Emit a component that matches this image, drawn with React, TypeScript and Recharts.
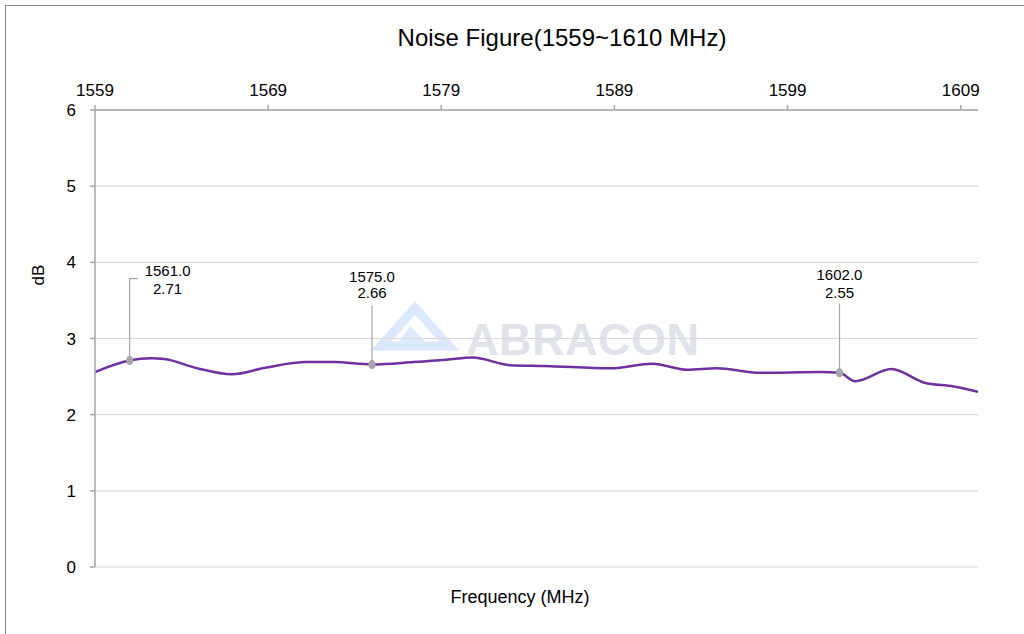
import { LineChart, Line, XAxis, YAxis, CartesianGrid } from "recharts";

// frequency (MHz) and noise figure (dB)
const freqs = [
  1559, 1561, 1562.2, 1563, 1564.9, 1566.9, 1568.9, 1571.2, 1572.8, 1575,
  1577.4, 1579.3, 1580.8, 1583, 1585, 1588.8, 1591.2, 1593.2, 1594.9, 1597.4,
  1600.9, 1602, 1602.9, 1605, 1606.9, 1608.6, 1610,
];
const noiseFigure = [
  2.56, 2.71, 2.74, 2.73, 2.61, 2.53, 2.62, 2.69, 2.69, 2.66,
  2.69, 2.72, 2.75, 2.65, 2.64, 2.61, 2.67, 2.59, 2.61, 2.55,
  2.56, 2.55, 2.44, 2.6, 2.42, 2.37, 2.3,
];
const xTicks = [1559, 1569, 1579, 1589, 1599, 1609];
const yTicks = [0, 1, 2, 3, 4, 5, 6];
const markerFreqs = [1561, 1575, 1602];

const data = freqs.map((f, i) => ({ freq: f, nf: noiseFigure[i] }));

// where each marker's callout sits relative to its dot
const calloutStyle: Record<number, { dx: number; top: number; l1: number; l2: number; elbow: number }> = {
  1561: { dx: 38, top: -82, l1: -90, l2: -72, elbow: 8 },
  1575: { dx: 0, top: -59, l1: -88, l2: -72, elbow: 0 },
  1602: { dx: 0, top: -69, l1: -98, l2: -80, elbow: 0 },
};

const FONT = '"Liberation Sans", Arial, sans-serif';

const MarkerDot = (props: any) => {
  const { cx, cy, payload, index } = props;
  if (!markerFreqs.includes(payload.freq)) return <g key={`d${index}`} />;
  const s = calloutStyle[payload.freq];
  return (
    <g key={`d${index}`}>
      <polyline
        points={`${cx},${cy} ${cx},${cy + s.top} ${cx + s.elbow},${cy + s.top}`}
        fill="none"
        stroke="#a6a6a6"
        strokeWidth={1.2}
      />
      <ellipse cx={cx} cy={cy} rx={3.5} ry={4.5} fill="#a6a6a6" />
      <text x={cx + s.dx} y={cy + s.l1} textAnchor="middle" dominantBaseline="central" fontSize={15} fill="#000" fontFamily={FONT}>
        {payload.freq.toFixed(1)}
      </text>
      <text x={cx + s.dx} y={cy + s.l2} textAnchor="middle" dominantBaseline="central" fontSize={15} fill="#000" fontFamily={FONT}>
        {payload.nf.toFixed(2)}
      </text>
    </g>
  );
};

export default function App() {
  return (
    <div style={{ position: "absolute", left: 0, top: 0, width: 1024, height: 634, background: "#fff", fontFamily: FONT }}>
      <div
        style={{
          position: "absolute", left: 5, top: 5, right: 0, bottom: 0,
          borderTop: "1.5px solid #8c8c8c", borderLeft: "1.5px solid #8c8c8c",
        }}
      />
      <svg width={1024} height={634} style={{ position: "absolute", left: 0, top: 0 }}>
        {/* watermark */}
        <g>
          <polygon points="415,308 449,346 381,346" fill="none" stroke="#dce8fb" strokeWidth={9} strokeLinejoin="miter" />
          <polygon points="410,326 430,346 396,346" fill="#dce8fb" />
          <text x={466} y={355} fontSize={45} fontWeight="bold" fill="#e1e3ea" fontFamily={FONT} letterSpacing={0.5}>
            ABRACON
          </text>
        </g>
        <text x={562} y={37} textAnchor="middle" dominantBaseline="central" fontSize={24} fill="#000" fontFamily={FONT}>
          Noise Figure(1559~1610 MHz)
        </text>
        <text x={520} y={597} textAnchor="middle" dominantBaseline="central" fontSize={18} fill="#000" fontFamily={FONT}>
          Frequency (MHz)
        </text>
        <text
          x={38} y={275} textAnchor="middle" dominantBaseline="central" fontSize={17} fill="#000"
          fontFamily={FONT} transform="rotate(-90 38 275)"
        >
          dB
        </text>
      </svg>
      <div style={{ position: "absolute", left: 0, top: 0 }}>
        <LineChart width={1024} height={634} data={data} margin={{ top: 80, right: 46, bottom: 67, left: 55 }}>
          <CartesianGrid horizontal vertical={false} stroke="#d9d9d9" strokeWidth={1.2} />
          <XAxis
            dataKey="freq"
            type="number"
            orientation="top"
            domain={[1559, 1610]}
            ticks={xTicks}
            allowDataOverflow
            height={30}
            tickSize={5}
            tickMargin={9}
            stroke="#a6a6a6"
            strokeWidth={1.5}
            tick={{ fill: "#000", fontSize: 17, fontFamily: FONT }}
          />
          <YAxis
            type="number"
            domain={[0, 6]}
            ticks={yTicks}
            width={40}
            tickSize={5}
            tickMargin={14}
            stroke="#a6a6a6"
            strokeWidth={1.5}
            tick={{ fill: "#000", fontSize: 17, fontFamily: FONT }}
          />
          <Line
            type="monotone"
            dataKey="nf"
            stroke="#7030a0"
            strokeWidth={2.5}
            dot={MarkerDot}
            activeDot={false}
            isAnimationActive={false}
          />
        </LineChart>
      </div>
    </div>
  );
}
